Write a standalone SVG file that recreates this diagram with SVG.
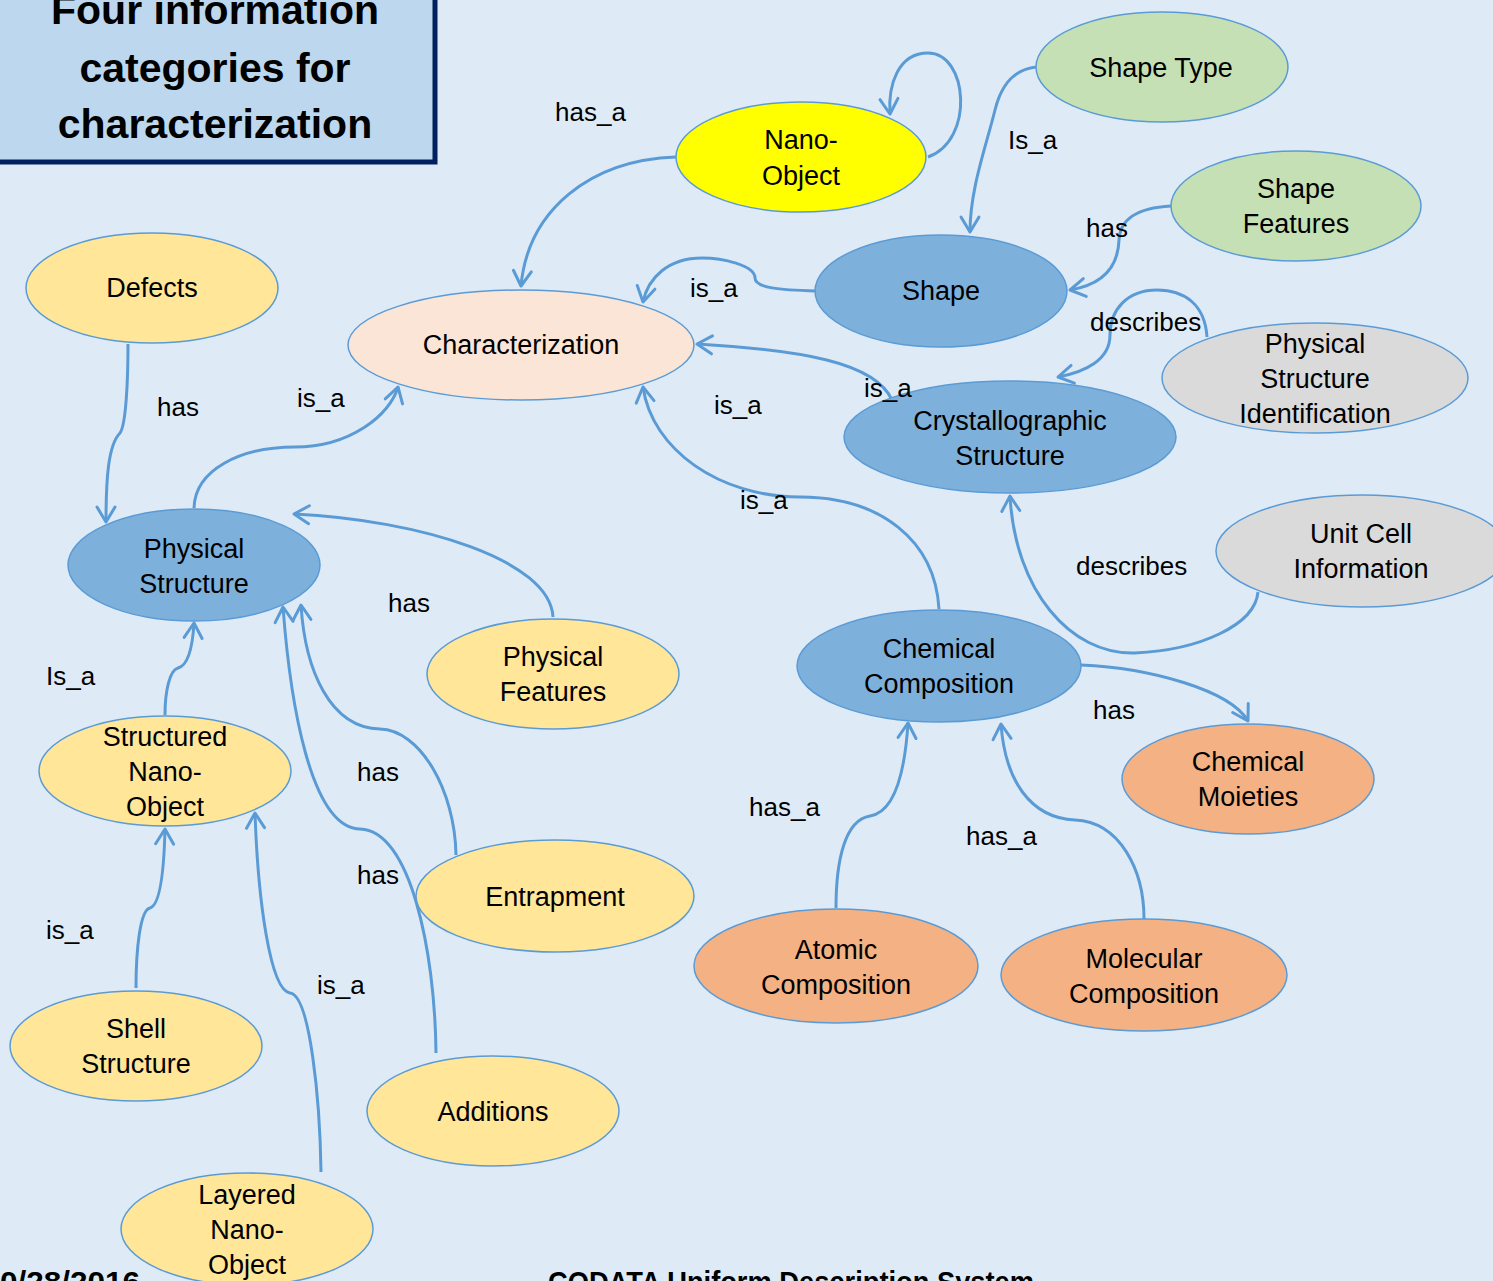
<svg xmlns="http://www.w3.org/2000/svg" width="1493" height="1281" viewBox="0 0 1493 1281">
  <defs>
    <marker id="arrow" markerUnits="userSpaceOnUse" markerWidth="30" markerHeight="30" viewBox="-20 -15 30 30" refX="0" refY="0" orient="auto">
      <path d="M-15,-9 L0,0 L-15,9" fill="none" stroke="#5B9BD5" stroke-width="3" stroke-linecap="round" stroke-linejoin="round"/>
    </marker>
    <style>
      .edge { fill: none; stroke: #5B9BD5; stroke-width: 3; marker-end: url(#arrow); }
      .node ellipse { stroke: #5B9BD5; stroke-width: 1.5; }
      .blue { fill: #7EB0DC; }
      .yellow { fill: #FFE699; }
      .orange { fill: #F4B183; }
      .grey { fill: #DADADA; }
      .green { fill: #C5E0B4; }
      .pink { fill: #FBE5D6; }
      .lemon { fill: #FFFF00; }
      text { font-family: "Liberation Sans", Arial, sans-serif; fill: #000; }
      .node text { font-size: 27px; text-anchor: middle; }
      .label { font-size: 26px; }
      .title { font-size: 41px; font-weight: bold; text-anchor: middle; }
      .footer { font-size: 30px; font-weight: bold; }
    </style>
  </defs>

  <!-- page background -->
  <rect x="0" y="0" width="1493" height="1281" fill="#DEEBF7"/>

  <!-- heading box -->
  <g id="heading">
    <rect x="-10" y="-10" width="445" height="172" fill="#BDD7EE" stroke="#002060" stroke-width="5"/>
    <text class="title" x="215" y="24">Four information</text>
    <text class="title" x="215" y="82">categories for</text>
    <text class="title" x="215" y="138">characterization</text>
  </g>

  <!-- connectors -->
  <g id="connectors">
    <path class="edge" d="M928,157 C975,140 968,53 928,53 C898,53 888,85 890,114"/>
    <path class="edge" d="M676,157 C590,160 528,210 521,286"/>
    <path class="edge" d="M1036,67 C1010,70 1000,90 995,110 C985,150 970,190 970,232"/>
    <path class="edge" d="M1171,206 C1135,208 1120,220 1119,240 C1118,270 1100,285 1070,290"/>
    <path class="edge" d="M816,291 C780,290 755,288 755,278 C755,265 722,258 702,258 C668,258 648,278 643,302"/>
    <path class="edge" d="M1207,337 C1205,305 1185,290 1157,290 C1127,290 1110,310 1110,335 C1110,360 1085,372 1058,377"/>
    <path class="edge" d="M892,400 C875,362 800,350 697,344"/>
    <path class="edge" d="M939,609 C935,540 880,497 800,497 C720,497 652,450 643,387"/>
    <path class="edge" d="M1258,592 C1255,625 1200,650 1135,653 C1070,655 1015,590 1010,496"/>
    <path class="edge" d="M1081,665 C1150,668 1230,690 1248,721"/>
    <path class="edge" d="M836,908 C836,860 845,820 870,816 C895,812 905,770 908,723"/>
    <path class="edge" d="M1144,919 C1144,870 1120,822 1075,820 C1030,818 1005,780 1001,724"/>
    <path class="edge" d="M128,344 C128,380 126,425 120,433 C108,445 106,480 106,522"/>
    <path class="edge" d="M194,508 C195,470 240,447 295,447 C350,447 390,415 398,387"/>
    <path class="edge" d="M553,617 C550,560 420,520 294,514"/>
    <path class="edge" d="M165,715 C165,690 170,670 178,668 C190,665 193,640 194,623"/>
    <path class="edge" d="M456,855 C455,790 420,730 380,729 C330,728 305,670 301,605"/>
    <path class="edge" d="M436,1053 C435,950 410,830 360,829 C310,828 290,700 283,607"/>
    <path class="edge" d="M136,988 C136,950 140,910 150,908 C160,905 164,870 165,829"/>
    <path class="edge" d="M321,1172 C320,1100 310,995 290,993 C270,990 258,900 255,813"/>
  </g>

  <!-- nodes -->
  <g id="nano-object" class="node">
    <ellipse class="lemon" cx="801" cy="157" rx="125" ry="55"/>
    <text x="801" y="149">Nano-</text>
    <text x="801" y="185">Object</text>
  </g>
  <g id="shape-type" class="node">
    <ellipse class="green" cx="1162" cy="67" rx="126" ry="55"/>
    <text x="1161" y="77">Shape Type</text>
  </g>
  <g id="shape-features" class="node">
    <ellipse class="green" cx="1296" cy="206" rx="125" ry="55"/>
    <text x="1296" y="198">Shape</text>
    <text x="1296" y="233">Features</text>
  </g>
  <g id="shape" class="node">
    <ellipse class="blue" cx="941" cy="291" rx="126" ry="56"/>
    <text x="941" y="300">Shape</text>
  </g>
  <g id="characterization" class="node">
    <ellipse class="pink" cx="521" cy="345" rx="173" ry="55"/>
    <text x="521" y="354">Characterization</text>
  </g>
  <g id="defects" class="node">
    <ellipse class="yellow" cx="152" cy="288" rx="126" ry="55"/>
    <text x="152" y="297">Defects</text>
  </g>
  <g id="physical-structure-identification" class="node">
    <ellipse class="grey" cx="1315" cy="378" rx="153" ry="55"/>
    <text x="1315" y="353">Physical</text>
    <text x="1315" y="388">Structure</text>
    <text x="1315" y="423">Identification</text>
  </g>
  <g id="crystallographic-structure" class="node">
    <ellipse class="blue" cx="1010" cy="437" rx="166" ry="56"/>
    <text x="1010" y="430">Crystallographic</text>
    <text x="1010" y="465">Structure</text>
  </g>
  <g id="unit-cell-information" class="node">
    <ellipse class="grey" cx="1362" cy="551" rx="146" ry="56"/>
    <text x="1361" y="543">Unit Cell</text>
    <text x="1361" y="578">Information</text>
  </g>
  <g id="physical-structure" class="node">
    <ellipse class="blue" cx="194" cy="565" rx="126" ry="56"/>
    <text x="194" y="558">Physical</text>
    <text x="194" y="593">Structure</text>
  </g>
  <g id="physical-features" class="node">
    <ellipse class="yellow" cx="553" cy="674" rx="126" ry="55"/>
    <text x="553" y="666">Physical</text>
    <text x="553" y="701">Features</text>
  </g>
  <g id="chemical-composition" class="node">
    <ellipse class="blue" cx="939" cy="666" rx="142" ry="56"/>
    <text x="939" y="658">Chemical</text>
    <text x="939" y="693">Composition</text>
  </g>
  <g id="chemical-moieties" class="node">
    <ellipse class="orange" cx="1248" cy="779" rx="126" ry="55"/>
    <text x="1248" y="771">Chemical</text>
    <text x="1248" y="806">Moieties</text>
  </g>
  <g id="structured-nano-object" class="node">
    <ellipse class="yellow" cx="165" cy="771" rx="126" ry="55"/>
    <text x="165" y="746">Structured</text>
    <text x="165" y="781">Nano-</text>
    <text x="165" y="816">Object</text>
  </g>
  <g id="entrapment" class="node">
    <ellipse class="yellow" cx="555" cy="896" rx="139" ry="56"/>
    <text x="555" y="906">Entrapment</text>
  </g>
  <g id="atomic-composition" class="node">
    <ellipse class="orange" cx="836" cy="966" rx="142" ry="57"/>
    <text x="836" y="959">Atomic</text>
    <text x="836" y="994">Composition</text>
  </g>
  <g id="molecular-composition" class="node">
    <ellipse class="orange" cx="1144" cy="975" rx="143" ry="56"/>
    <text x="1144" y="968">Molecular</text>
    <text x="1144" y="1003">Composition</text>
  </g>
  <g id="shell-structure" class="node">
    <ellipse class="yellow" cx="136" cy="1046" rx="126" ry="55"/>
    <text x="136" y="1038">Shell</text>
    <text x="136" y="1073">Structure</text>
  </g>
  <g id="additions" class="node">
    <ellipse class="yellow" cx="493" cy="1111" rx="126" ry="55"/>
    <text x="493" y="1121">Additions</text>
  </g>
  <g id="layered-nano-object" class="node">
    <ellipse class="yellow" cx="247" cy="1229" rx="126" ry="56"/>
    <text x="247" y="1204">Layered</text>
    <text x="247" y="1239">Nano-</text>
    <text x="247" y="1274">Object</text>
  </g>

  <!-- relation labels -->
  <g id="edge-labels">
    <text class="label" x="555" y="121">has_a</text>
    <text class="label" x="1008" y="149">Is_a</text>
    <text class="label" x="1086" y="237">has</text>
    <text class="label" x="690" y="297">is_a</text>
    <text class="label" x="1090" y="331">describes</text>
    <text class="label" x="864" y="397">is_a</text>
    <text class="label" x="714" y="414">is_a</text>
    <text class="label" x="157" y="416">has</text>
    <text class="label" x="297" y="407">is_a</text>
    <text class="label" x="740" y="509">is_a</text>
    <text class="label" x="1076" y="575">describes</text>
    <text class="label" x="388" y="612">has</text>
    <text class="label" x="46" y="685">Is_a</text>
    <text class="label" x="1093" y="719">has</text>
    <text class="label" x="357" y="781">has</text>
    <text class="label" x="749" y="816">has_a</text>
    <text class="label" x="966" y="845">has_a</text>
    <text class="label" x="357" y="884">has</text>
    <text class="label" x="46" y="939">is_a</text>
    <text class="label" x="317" y="994">is_a</text>
  </g>

  <!-- footer -->
  <g id="footer">
    <text class="footer" x="0" y="1292" textLength="140" lengthAdjust="spacingAndGlyphs">0/28/2016</text>
    <text class="footer" x="548" y="1292" textLength="486" lengthAdjust="spacingAndGlyphs">CODATA Uniform Description System</text>
  </g>
</svg>
